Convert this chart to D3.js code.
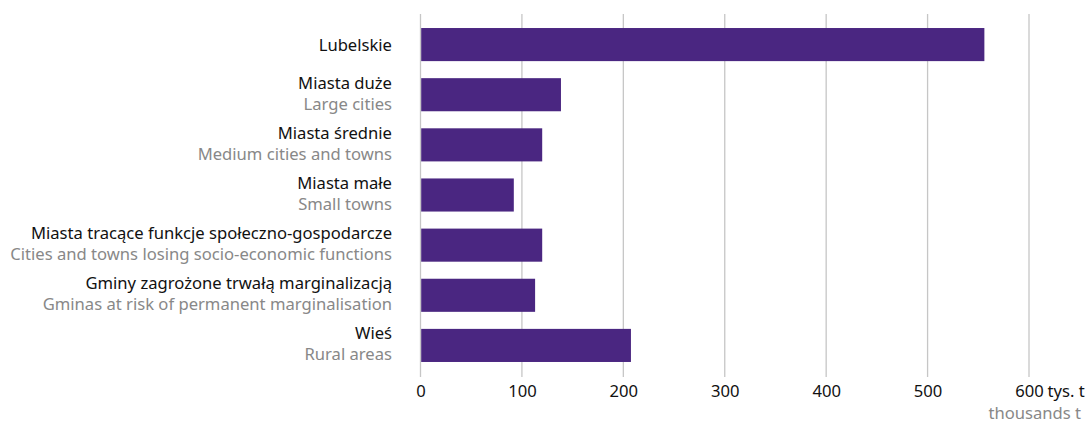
<!DOCTYPE html>
<html><head><meta charset="utf-8">
<script src="https://cdn.jsdelivr.net/npm/d3@7"></script>
<style>
body{margin:0;background:#fff;}
text{font-family:"Noto Sans","Open Sans",sans-serif;}
</style></head>
<body><svg id="c" width="1085" height="423"></svg>
<script>
const labelsPL = ["Lubelskie","Miasta duże","Miasta średnie","Miasta małe","Miasta tracące funkcje społeczno-gospodarcze","Gminy zagrożone trwałą marginalizacją","Wieś"];
const labelsEN = ["","Large cities","Medium cities and towns","Small towns","Cities and towns losing socio-economic functions","Gminas at risk of permanent marginalisation","Rural areas"];
const values = [556,138.5,120,92,120,113,207.5];
const ticks = [0,100,200,300,400,500,600];
const unitPL = "\u00a0tys. t";
const unitEN = "thousands t";

const svg = d3.select("#c");
const x = d3.scaleLinear().domain([0,600]).range([420.5,1029]);
const y = d3.scaleBand().domain(d3.range(values.length)).range([19.5,370.5]).paddingInner(0.34).paddingOuter(0.17);

// fit font size so the longest label spans like the reference
const probe = svg.append("text").style("font-size","16px").text(labelsEN[4]);
const fs = 16 * 382 / probe.node().getComputedTextLength();
probe.remove();
const F = fs.toFixed(2)+"px";

// gridlines
svg.append("g").selectAll("line").data(ticks).join("line")
  .attr("x1",d=>x(d)).attr("x2",d=>x(d)).attr("y1",14).attr("y2",377)
  .attr("stroke","#c6c6c6").attr("stroke-width",1.3);

// bars
svg.append("g").selectAll("rect").data(values).join("rect")
  .attr("x",x(0)+0.7).attr("y",(d,i)=>y(i)).attr("width",d=>x(d)-x(0)-0.7).attr("height",y.bandwidth())
  .attr("fill","#4a2681");

// labels
const lg = svg.append("g").attr("text-anchor","end").style("font-size",F);
labelsPL.forEach((t,i)=>{
  const cy = y(i)+y.bandwidth()/2;
  const two = labelsEN[i] !== "";
  lg.append("text").attr("x",392).attr("y",two?cy-12.5:cy).attr("dominant-baseline","central").attr("fill","#111").text(t);
  if(two) lg.append("text").attr("x",392).attr("y",cy+8.5).attr("dominant-baseline","central").attr("fill","#888").text(labelsEN[i]);
});

// axis
const ax = svg.append("g").attr("transform","translate(0,377)")
  .call(d3.axisBottom(x).tickValues(ticks).tickSize(0).tickPadding(8));
ax.select(".domain").remove();
ax.selectAll("text").style("font-size",F).style("font-family","'Noto Sans','Open Sans',sans-serif").attr("fill","#111");
const last = ax.selectAll(".tick text").filter(d=>d===600);
const w = last.node().getComputedTextLength();
ax.append("text").attr("x",x(600)+w/2).attr("y",8).attr("dy","0.71em").attr("fill","#111")
  .style("font-size",F).attr("text-anchor","start").text(unitPL);
svg.append("text").attr("x",1081).attr("y",412.5).attr("dominant-baseline","central").attr("text-anchor","end")
  .style("font-size",F).attr("fill","#888").text(unitEN);
</script></body></html>
